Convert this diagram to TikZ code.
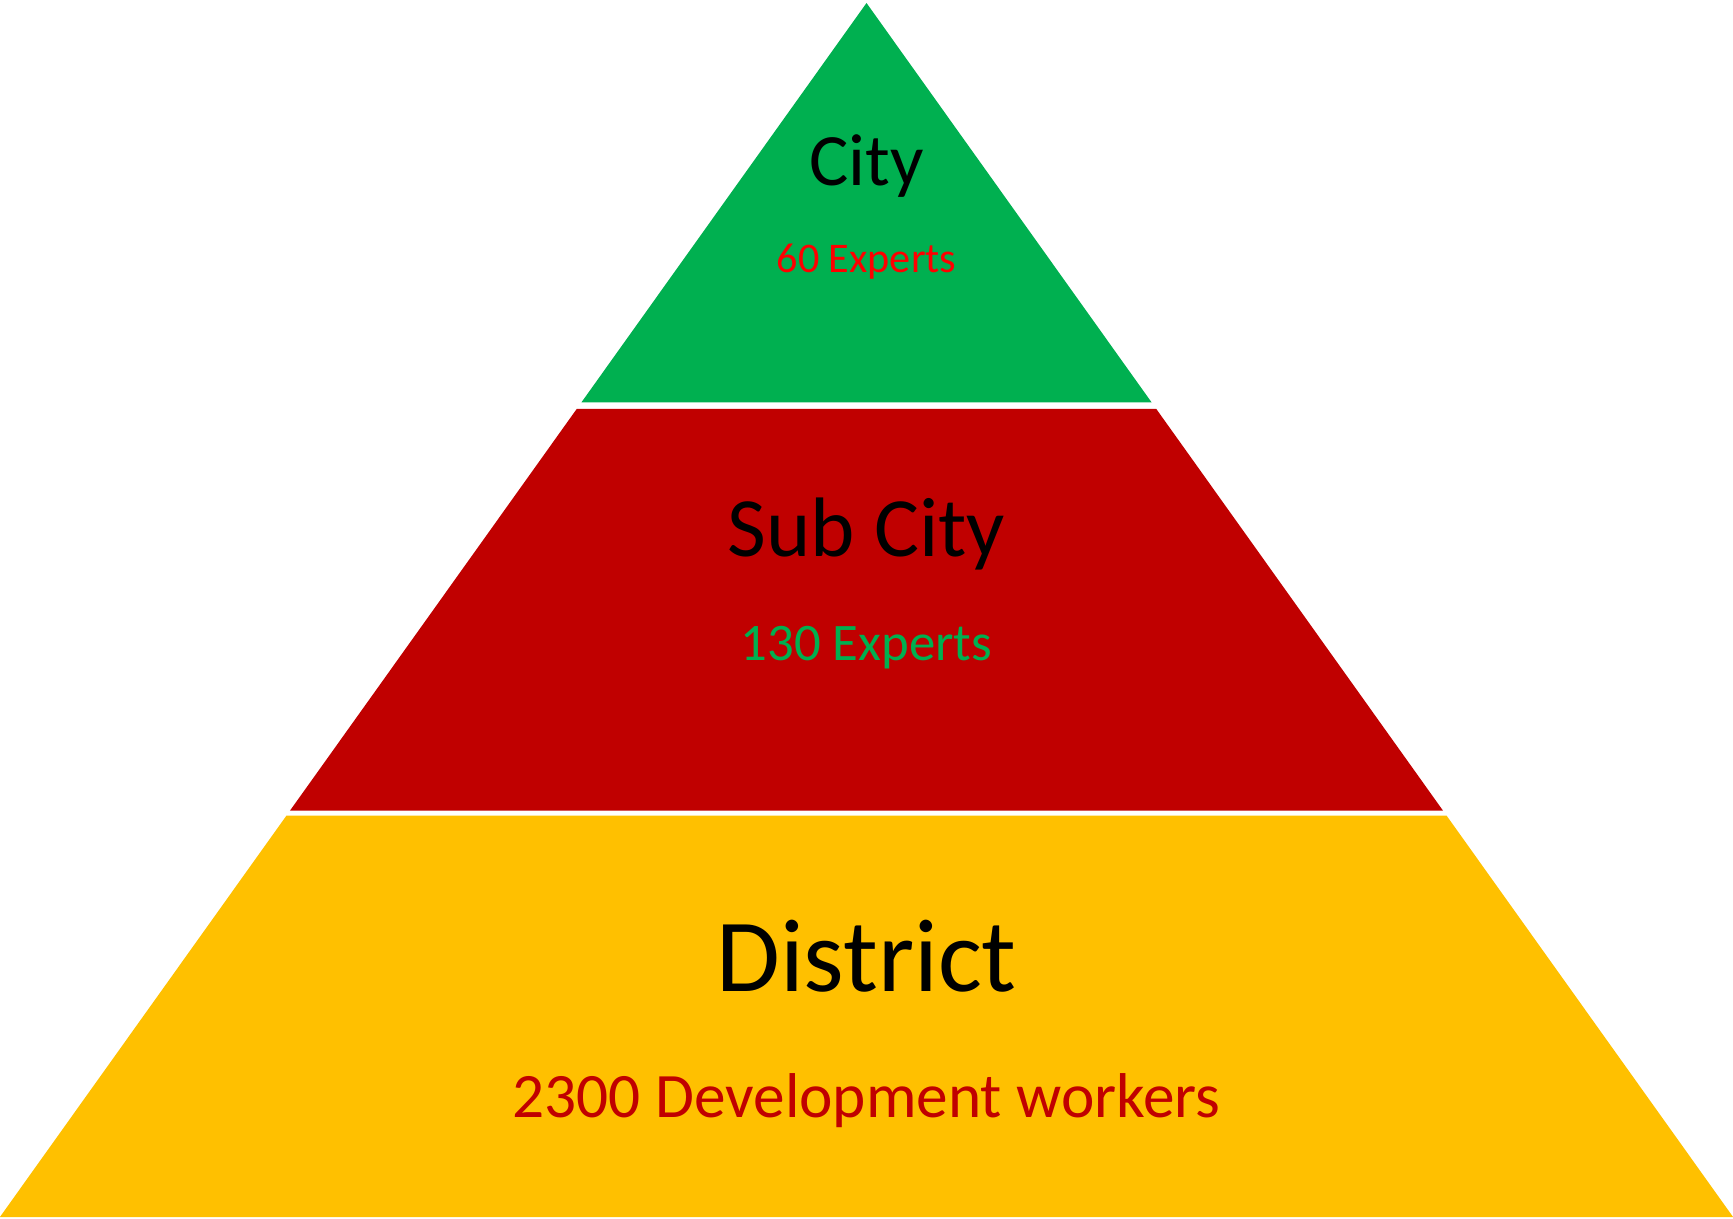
\documentclass[tikz,border=0pt]{standalone}
\usepackage{fontspec}
\setmainfont{Carlito}
\definecolor{topgreen}{HTML}{00B050}
\definecolor{midred}{HTML}{C00000}
\definecolor{lowyellow}{HTML}{FFC000}
\definecolor{brightred}{HTML}{FF0000}
\begin{document}
\begin{tikzpicture}[x=0.01cm, y=-0.01cm, line join=round, line cap=round,
	level/.style={anchor=base, inner sep=0pt}]
				\def\ax{866.5} \def\ay{3} % apex
				\def\k{0.7138} % half width per unit of height
				\def\ya{402.3} \def\yb{409} \def\yc{810.7} \def\yd{815.7} \def\ye{1217}
				\useasboundingbox (0,0) rectangle (1733,1219);
				\fill[topgreen] (\ax,\ay)--({\ax+\k*(\ya-\ay)},\ya)--({\ax-\k*(\ya-\ay)},\ya)--cycle;
				\fill[midred] ({\ax-\k*(\yb-\ay)},\yb)--({\ax+\k*(\yb-\ay)},\yb)
				--({\ax+\k*(\yc-\ay)},\yc)--({\ax-\k*(\yc-\ay)},\yc)--cycle;
				\fill[lowyellow] ({\ax-\k*(\yd-\ay)},\yd)--({\ax+\k*(\yd-\ay)},\yd)
				--({\ax+\k*(\ye-\ay)},\ye)--({\ax-\k*(\ye-\ay)},\ye)--cycle;
				\node[level, font=\fontsize{21}{25}\selectfont] (city) at (\ax,185.5) {City};
				\node[level, font=\fontsize{12}{14}\selectfont, text=brightred] (cityn) at (\ax,273) {60 Experts};
				\node[level, font=\fontsize{24}{29}\selectfont] (sub) at (\ax,556.5) {Sub City};
				\node[level, font=\fontsize{15}{18}\selectfont, text=topgreen] (subn) at (\ax,660.5) {130 Experts};
				\node[level, font=\fontsize{29.5}{35}\selectfont] (dist) at (\ax,991) {District};
				\node[level, font=\fontsize{18}{22}\selectfont, text=midred] (distn) at (\ax,1117) {2300 Development workers};
\end{tikzpicture}
\end{document}
